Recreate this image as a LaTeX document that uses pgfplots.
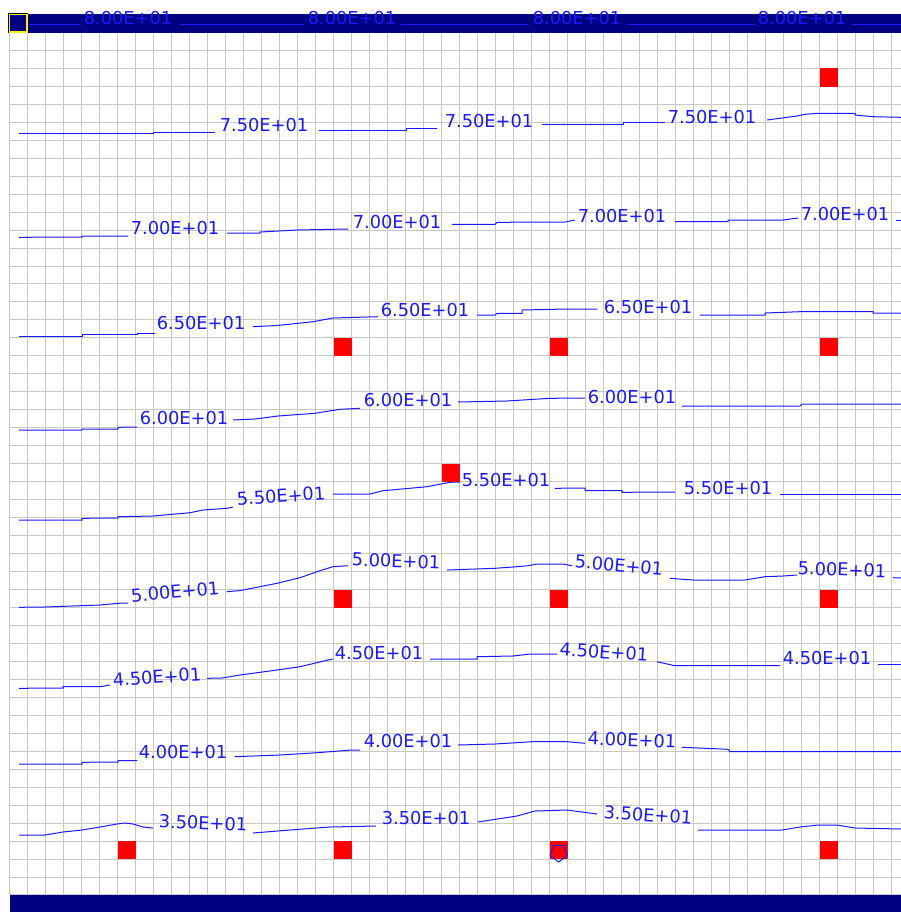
\documentclass[border=0pt]{standalone}
\usepackage{fontspec}
\setmainfont{DejaVu Sans}
\usepackage{pgfplots}
\pgfplotsset{compat=1.18}
\definecolor{navybar}{RGB}{0,0,128}
\definecolor{cblue}{RGB}{25,25,255}
\definecolor{gridgray}{RGB}{200,200,200}
\definecolor{wellred}{RGB}{255,0,0}
\tikzset{clab/.style={font=\fontsize{8.9}{10}\selectfont, text=cblue, inner sep=0pt, anchor=center}}
\begin{document}
\begin{tikzpicture}
\useasboundingbox (-4.65pt,-8.5pt) rectangle (445.85pt,447.5pt);
\begin{axis}[
  scale only axis, width=445.85pt, height=431.3pt,
  xmin=9.3, xmax=901, ymin=32.4, ymax=895, y dir=reverse,
  hide axis,
  clip=false,
  every axis plot/.append style={line width=0.5pt},
]
% grid (cells of the map)
\pgfplotsinvokeforeach{0,...,49}{%
  \pgfmathsetmacro\gx{9.3+18.01*#1}%
  \edef\tmp{\noexpand\draw[gridgray, line width=0.5pt] (axis cs:\gx,32.4) -- (axis cs:\gx,895);}\tmp
}
\pgfplotsinvokeforeach{0,...,48}{%
  \pgfmathsetmacro\gy{32.4+17.97*#1}%
  \edef\tmp{\noexpand\draw[gridgray, line width=0.5pt] (axis cs:9.3,\gy) -- (axis cs:901,\gy);}\tmp
}
% bars
\addplot[fill=navybar, draw=none] coordinates {(9.8,14)(901,14)(901,32.6)(9.8,32.6)} --cycle;
\addplot[fill=navybar, draw=none] coordinates {(9.8,895)(901,895)(901,912)(9.8,912)} --cycle;
% corner marker
\addplot[only marks, mark=square, mark size=4.75pt, mark options={black, line width=0.5pt}] coordinates {(18.3,23.3)};
\addplot[only marks, mark=square, mark size=4.3pt, mark options={yellow, line width=0.6pt}] coordinates {(18.3,23.3)};
% wells
\addplot[only marks, mark=square*, mark size=4.3pt, mark options={draw=wellred, fill=wellred, line width=0.3pt}] coordinates {
(828.8,77.3)
(342.5,346.9)(558.6,346.9)(828.8,346.9)
(450.6,472.7)
(342.5,598.5)(558.6,598.5)(828.8,598.5)
(126.4,850.0)(342.5,850.0)(558.6,850.0)(828.8,850.0)
};
\addplot[only marks, mark=pentagon, mark size=4.5pt, mark options={rotate=180, draw=cblue, line width=0.5pt}] coordinates {(558.6,853)};
% contour 80
\addplot[cblue] coordinates {(29,24)(81,24)};
\addplot[cblue] coordinates {(180,24)(304,24)};
\addplot[cblue] coordinates {(401,24)(529,24)};
\addplot[cblue] coordinates {(627,24)(755,24)};
\addplot[cblue] coordinates {(852,24)(901,24)};
\node[clab] at (axis cs:128,18) {8.00E+01};
\node[clab] at (axis cs:352,18) {8.00E+01};
\node[clab] at (axis cs:577,18) {8.00E+01};
\node[clab] at (axis cs:802,18) {8.00E+01};
% contour 75
\addplot[cblue] coordinates {(19,133.3)(153,133.3)(153,132.7)(215,132.7)};
\addplot[cblue] coordinates {(319,130)(406,130)(406,128.3)(437,128.3)};
\addplot[cblue] coordinates {(542,124.5)(623,124.5)(623,122.5)(665,122.5)};
\addplot[cblue] coordinates {(767,120)(782,118)(797,116)(805,114.3)(818,113.3)(855,113.3)(855,115)(873,116.7)(901,117.3)};
\node[clab] at (axis cs:264,125) {7.50E+01};
\node[clab] at (axis cs:489,121.5) {7.50E+01};
\node[clab] at (axis cs:712,116.7) {7.50E+01};
% contour 70
\addplot[cblue] coordinates {(19,237.3)(82,237)(82,236)(128,236)};
\addplot[cblue] coordinates {(227,233)(260,233)(260,232)(297,230)(348,229)};
\addplot[cblue] coordinates {(452,224.3)(495,224.3)(497,222.3)(565,222)(575,220)};
\addplot[cblue] coordinates {(675,221.7)(728,221.7)(728,220)(783,220)(798,218)};
\addplot[cblue] coordinates {(896,220)(901,220)};
\node[clab] at (axis cs:175,228.5) {7.00E+01};
\node[clab] at (axis cs:397,222) {7.00E+01};
\node[clab] at (axis cs:622,216) {7.00E+01};
\node[clab] at (axis cs:845,214) {7.00E+01};
% contour 65
\addplot[cblue] coordinates {(19,336)(82,336)(82,334.7)(137,334.7)(137,333.3)(155,333.3)};
\addplot[cblue] coordinates {(253,326.7)(277,325.5)(313,321.7)(333,318)(378,316.7)};
\addplot[cblue] coordinates {(477,315)(495,315)(497,313.3)(522,313.3)(522,310)(567,309)(597,309)};
\addplot[cblue] coordinates {(700,315)(765,315)(765,313)(800,311.7)(873,311.7)(873,313)(901,313)};
\node[clab] at (axis cs:201,323) {6.50E+01};
\node[clab] at (axis cs:425,310.5) {6.50E+01};
\node[clab] at (axis cs:648,307.5) {6.50E+01};
% contour 60
\addplot[cblue] coordinates {(19,430)(82,430)(82,429)(118,429)(118,427.3)(137,427)};
\addplot[cblue] coordinates {(233,420)(255,419)(278,416)(315,413.3)(340,409.3)(360,408.3)};
\addplot[cblue] coordinates {(458,402)(507,401)(550,398.3)(585,398)};
\addplot[cblue] coordinates {(682,406)(800,406)(802,404)(901,404)};
\node[clab] at (axis cs:184,418) {6.00E+01};
\node[clab] at (axis cs:408,400.5) {6.00E+01};
\node[clab] at (axis cs:632,397) {6.00E+01};
% contour 55
\addplot[cblue] coordinates {(19,520)(82,520)(82,518.3)(118,518)(118,516.7)(153,516)(190,512.7)(203,510)(227,508.3)(233,507)};
\addplot[cblue] coordinates {(333,494)(370,494)(383,490.7)(427,486.7)(450,482.3)(460,482)};
\addplot[cblue] coordinates {(555,488.3)(585,488)(585,490.7)(622,490.7)(622,492.3)(675,492)};
\addplot[cblue] coordinates {(780,494)(901,494)};
\node[clab, rotate=4] at (axis cs:281,496) {5.50E+01};
\node[clab] at (axis cs:506,480) {5.50E+01};
\node[clab] at (axis cs:728,488.5) {5.50E+01};
% contour 50
\addplot[cblue] coordinates {(19,607.3)(45,607)(100,605)(118,603.3)(128,603)};
\addplot[cblue] coordinates {(227,591.7)(240,590.6)(277,583.3)(300,577.7)(320,570.7)(333,566.7)(348,565.7)};
\addplot[cblue] coordinates {(447,570)(495,568.3)(513,567)(528,565.7)(537,564)(563,564)(572,565.7)};
\addplot[cblue] coordinates {(670,578.3)(693,580)(745,580)(765,576.7)(783,576)(797,575)};
\addplot[cblue] coordinates {(893,577.7)(901,578)};
\node[clab, rotate=5] at (axis cs:175,592) {5.00E+01};
\node[clab, rotate=-2] at (axis cs:396,561) {5.00E+01};
\node[clab, rotate=-5] at (axis cs:619,565) {5.00E+01};
\node[clab, rotate=-2] at (axis cs:842,569.5) {5.00E+01};
% contour 45
\addplot[cblue] coordinates {(19,688.3)(63,688)(63,686.7)(100,686.7)(110,685)};
\addplot[cblue] coordinates {(207,678.3)(222,678)(240,675)(277,670)(300,666.7)(328,660)(333,659)};
\addplot[cblue] coordinates {(430,659)(477,659)(477,656.7)(513,656)(530,654)(557,654)};
\addplot[cblue] coordinates {(657,661.7)(675,665.7)(780,665.7)};
\addplot[cblue] coordinates {(878,664)(901,664)};
\node[clab, rotate=4] at (axis cs:157,677) {4.50E+01};
\node[clab] at (axis cs:379,653) {4.50E+01};
\node[clab, rotate=-4] at (axis cs:604,652) {4.50E+01};
\node[clab] at (axis cs:827,658) {4.50E+01};
% contour 40
\addplot[cblue] coordinates {(19,764)(82,764)(82,762.3)(118,762)(118,760.7)(137,760.7)};
\addplot[cblue] coordinates {(235,756.7)(280,755)(317,752.7)(352,750)(360,750)};
\addplot[cblue] coordinates {(458,745)(495,744)(532,741.7)(567,741.7)(585,743.3)};
\addplot[cblue] coordinates {(682,747.3)(728,749.3)(730,751.7)(901,751.7)};
\node[clab] at (axis cs:183,752.5) {4.00E+01};
\node[clab] at (axis cs:408,741.5) {4.00E+01};
\node[clab, rotate=-2] at (axis cs:632,740) {4.00E+01};
% contour 35
\addplot[cblue] coordinates {(19,835)(45,835)(63,832)(82,830)(100,827)(117,824)(125,823)(133,824)(143,827)(153,828)};
\addplot[cblue] coordinates {(253,833)(290,830)(330,827)(376,826)};
\addplot[cblue] coordinates {(478,822)(517,816)(535,811)(567,810)(597,814)};
\addplot[cblue] coordinates {(698,830)(782,830)(800,827)(818,825)(837,825)(855,828)(901,829)};
\node[clab, rotate=-2] at (axis cs:203,823) {3.50E+01};
\node[clab] at (axis cs:426,818) {3.50E+01};
\node[clab, rotate=-4] at (axis cs:648,815) {3.50E+01};
\end{axis}
\end{tikzpicture}
\end{document}
